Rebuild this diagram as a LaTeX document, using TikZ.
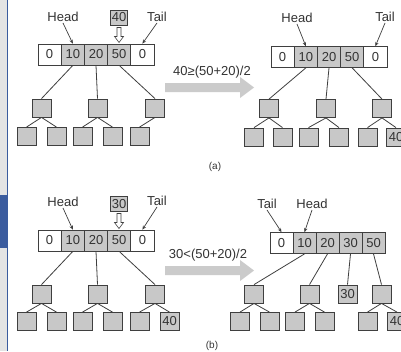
\documentclass[tikz,border=0pt]{standalone}
\usepackage{fontspec}
\setmainfont{Liberation Sans}
\usetikzlibrary{arrows.meta}
\definecolor{cellgray}{HTML}{C8C8C8}
\definecolor{edgec}{HTML}{3F3F3F}
\definecolor{arrowgray}{HTML}{CBCBCB}
\definecolor{txt}{HTML}{333333}
\definecolor{bluebar}{HTML}{3B5C9E}
\definecolor{strip}{HTML}{E4E4E4}
\begin{document}
\begin{tikzpicture}[x=1pt,y=-1pt,
 every node/.style={font=\fontsize{13}{15}\selectfont, text=txt},
 cellw/.style={draw=edgec, line width=0.8pt, minimum width=23.2pt, minimum height=21pt, inner sep=0pt, fill=white},
 cellg/.style={cellw, fill=cellgray},
 tnode/.style={draw=edgec, line width=0.8pt, fill=cellgray, minimum width=19pt, minimum height=18pt, inner sep=0pt},
 lbl/.style={inner sep=1pt},
 ptr/.style={draw=edgec, line width=0.7pt, -{Stealth[length=4pt,width=3.5pt]}},
 link/.style={draw=edgec, line width=0.8pt},
 ins/.style={draw=edgec, line width=0.8pt, fill=cellgray, inner sep=1pt, minimum width=16pt, minimum height=15pt},
 bigarrow/.style={fill=arrowgray, draw=none},
 hollow/.style={draw=edgec, line width=0.6pt, fill=white},
 caption/.style={font=\fontsize{10}{12}\selectfont},
 hollowdown/.pic={\draw[hollow] (-2,0) -- (2,0) -- (2,9) -- (4.5,9) -- (0,15) -- (-4.5,9) -- (-2,9) -- cycle;}
]
\useasboundingbox (0,0) rectangle (401,351);
\clip (0,0) rectangle (401,351);
\fill[white] (0,0) rectangle (401,351);
% left edge
\fill[strip] (0,0) rectangle (6.5,351);
\fill[bluebar] (0,195) rectangle (7.5,248);
\draw[bluebar, line width=1.5pt] (7.5,0) -- (7.5,351);

% ===== (a) left =====
\node[cellw] (aL1) at (49.6,54.5) {0};
\node[cellg] (aL2) at (72.8,54.5) {10};
\node[cellg] (aL3) at (96,54.5) {20};
\node[cellg] (aL4) at (119.2,54.5) {50};
\node[cellw] (aL5) at (142.4,54.5) {0};
\node[lbl] (aLh) at (63,17) {Head};
\node[lbl] (aLt) at (157,17) {Tail};
\draw[ptr] (aLh.south) -- (aL2.north);
\draw[ptr] (aLt.south) -- (aL5.north);
\node[ins] (aLi) at (119,17.5) {40};
\pic at (119,27.5) {hollowdown};
\node[tnode] (aLn1) at (41.5,108) {};
\node[tnode] (aLn2) at (97.5,108) {};
\node[tnode] (aLn3) at (155,108) {};
\node[tnode] (aLm1) at (26.5,136.5) {};
\node[tnode] (aLm2) at (56.5,136.5) {};
\node[tnode] (aLm3) at (82.5,136.5) {};
\node[tnode] (aLm4) at (112.5,136.5) {};
\node[tnode] (aLm5) at (139.5,136.5) {};
\draw[link] (aL2.south) -- (aLn1.north);
\draw[link] (aL3.south) -- (aLn2.north);
\draw[link] (aL4.south) -- (aLn3.north);
\draw[link] (aLn1.south) -- (aLm1.north);
\draw[link] (aLn1.south) -- (aLm2.north);
\draw[link] (aLn2.south) -- (aLm3.north);
\draw[link] (aLn2.south) -- (aLm4.north);
\draw[link] (aLn3.south) -- (aLm5.north);

% arrow (a)
\fill[bigarrow] (165,83) -- (240,83) -- (240,77) -- (254,87.5) -- (240,98) -- (240,92) -- (165,92) -- cycle;
\node (aTxt) at (212,72) {40≥(50+20)/2};

% ===== (a) right =====
\node[cellw] (aR1) at (282.6,57) {0};
\node[cellg] (aR2) at (305.8,57) {10};
\node[cellg] (aR3) at (329,57) {20};
\node[cellg] (aR4) at (352.2,57) {50};
\node[cellw] (aR5) at (375.4,57) {0};
\node[lbl] (aRh) at (297,18) {Head};
\node[lbl] (aRt) at (385,17) {Tail};
\draw[ptr] (aRh.south) -- (aR2.north);
\draw[ptr] (aRt.south) -- (aR5.north);
\node[tnode] (aRn1) at (269,108.5) {};
\node[tnode] (aRn2) at (326,108.5) {};
\node[tnode] (aRn3) at (382,108.5) {};
\node[tnode] (aRm1) at (254,137) {};
\node[tnode] (aRm2) at (282.5,137) {};
\node[tnode] (aRm3) at (308.5,137) {};
\node[tnode] (aRm4) at (339,137) {};
\node[tnode] (aRm5) at (367.5,137) {};
\node[tnode] (aRm6) at (396,137) {40};
\draw[link] (aR2.south) -- (aRn1.north);
\draw[link] (aR3.south) -- (aRn2.north);
\draw[link] (aR4.south) -- (aRn3.north);
\draw[link] (aRn1.south) -- (aRm1.north);
\draw[link] (aRn1.south) -- (aRm2.north);
\draw[link] (aRn2.south) -- (aRm3.north);
\draw[link] (aRn2.south) -- (aRm4.north);
\draw[link] (aRn3.south) -- (aRm5.north);
\draw[link] (aRn3.south) -- (aRm6.north);
\node[caption] (capA) at (215,167) {(a)};

% ===== (b) left =====
\node[cellw] (bL1) at (49.6,240.5) {0};
\node[cellg] (bL2) at (72.8,240.5) {10};
\node[cellg] (bL3) at (96,240.5) {20};
\node[cellg] (bL4) at (119.2,240.5) {50};
\node[cellw] (bL5) at (142.4,240.5) {0};
\node[lbl] (bLh) at (63,202) {Head};
\node[lbl] (bLt) at (157,201) {Tail};
\draw[ptr] (bLh.south) -- (bL2.north);
\draw[ptr] (bLt.south) -- (bL5.north);
\node[ins] (bLi) at (119,204) {30};
\pic at (119,213.5) {hollowdown};
\node[tnode] (bLn1) at (41.5,294) {};
\node[tnode] (bLn2) at (97.5,294) {};
\node[tnode] (bLn3) at (155,294) {};
\node[tnode] (bLm1) at (26.5,321.5) {};
\node[tnode] (bLm2) at (56.5,321.5) {};
\node[tnode] (bLm3) at (82.5,321.5) {};
\node[tnode] (bLm4) at (112.5,321.5) {};
\node[tnode] (bLm5) at (139.5,321.5) {};
\node[tnode] (bLm6) at (169.5,321.5) {40};
\draw[link] (bL2.south) -- (bLn1.north);
\draw[link] (bL3.south) -- (bLn2.north);
\draw[link] (bL4.south) -- (bLn3.north);
\draw[link] (bLn1.south) -- (bLm1.north);
\draw[link] (bLn1.south) -- (bLm2.north);
\draw[link] (bLn2.south) -- (bLm3.north);
\draw[link] (bLn2.south) -- (bLm4.north);
\draw[link] (bLn3.south) -- (bLm5.north);
\draw[link] (bLn3.south) -- (bLm6.north);

% arrow (b)
\fill[bigarrow] (165,266) -- (240,266) -- (240,260) -- (254,270.5) -- (240,281) -- (240,275) -- (165,275) -- cycle;
\node (bTxt) at (208,255) {30<(50+20)/2};

% ===== (b) right =====
\node[cellw, minimum width=23pt] (bR1) at (281.5,243) {0};
\node[cellg, minimum width=23pt] (bR2) at (304.5,243) {10};
\node[cellg, minimum width=23pt] (bR3) at (327.5,243) {20};
\node[cellg, minimum width=23pt] (bR4) at (350.5,243) {30};
\node[cellg, minimum width=23pt] (bR5) at (373.5,243) {50};
\node[lbl] (bRt) at (267,204) {Tail};
\node[lbl] (bRh) at (312,204) {Head};
\draw[ptr] (bRt.south) -- (bR1.north);
\draw[ptr] (bRh.south) -- (bR2.north);
\node[tnode] (bRn1) at (254,294) {};
\node[tnode] (bRn2) at (309.5,294) {};
\node[tnode] (bRn3) at (347.5,294) {30};
\node[tnode] (bRn4) at (381.5,294) {};
\node[tnode] (bRm1) at (240,321.5) {};
\node[tnode] (bRm2) at (269.5,321.5) {};
\node[tnode] (bRm3) at (295,321.5) {};
\node[tnode] (bRm4) at (324.5,321.5) {};
\node[tnode] (bRm5) at (367.5,321.5) {};
\node[tnode] (bRm6) at (397,321.5) {40};
\draw[link] (bR2.south) -- (bRn1.north);
\draw[link] (bR3.south) -- (bRn2.north);
\draw[link] (bR4.south) -- (bRn3.north);
\draw[link] (bR5.south) -- (bRn4.north);
\draw[link] (bRn1.south) -- (bRm1.north);
\draw[link] (bRn1.south) -- (bRm2.north);
\draw[link] (bRn2.south) -- (bRm3.north);
\draw[link] (bRn2.south) -- (bRm4.north);
\draw[link] (bRn4.south) -- (bRm5.north);
\draw[link] (bRn4.south) -- (bRm6.north);
\node[caption] (capB) at (212,346) {(b)};
\end{tikzpicture}
\end{document}
